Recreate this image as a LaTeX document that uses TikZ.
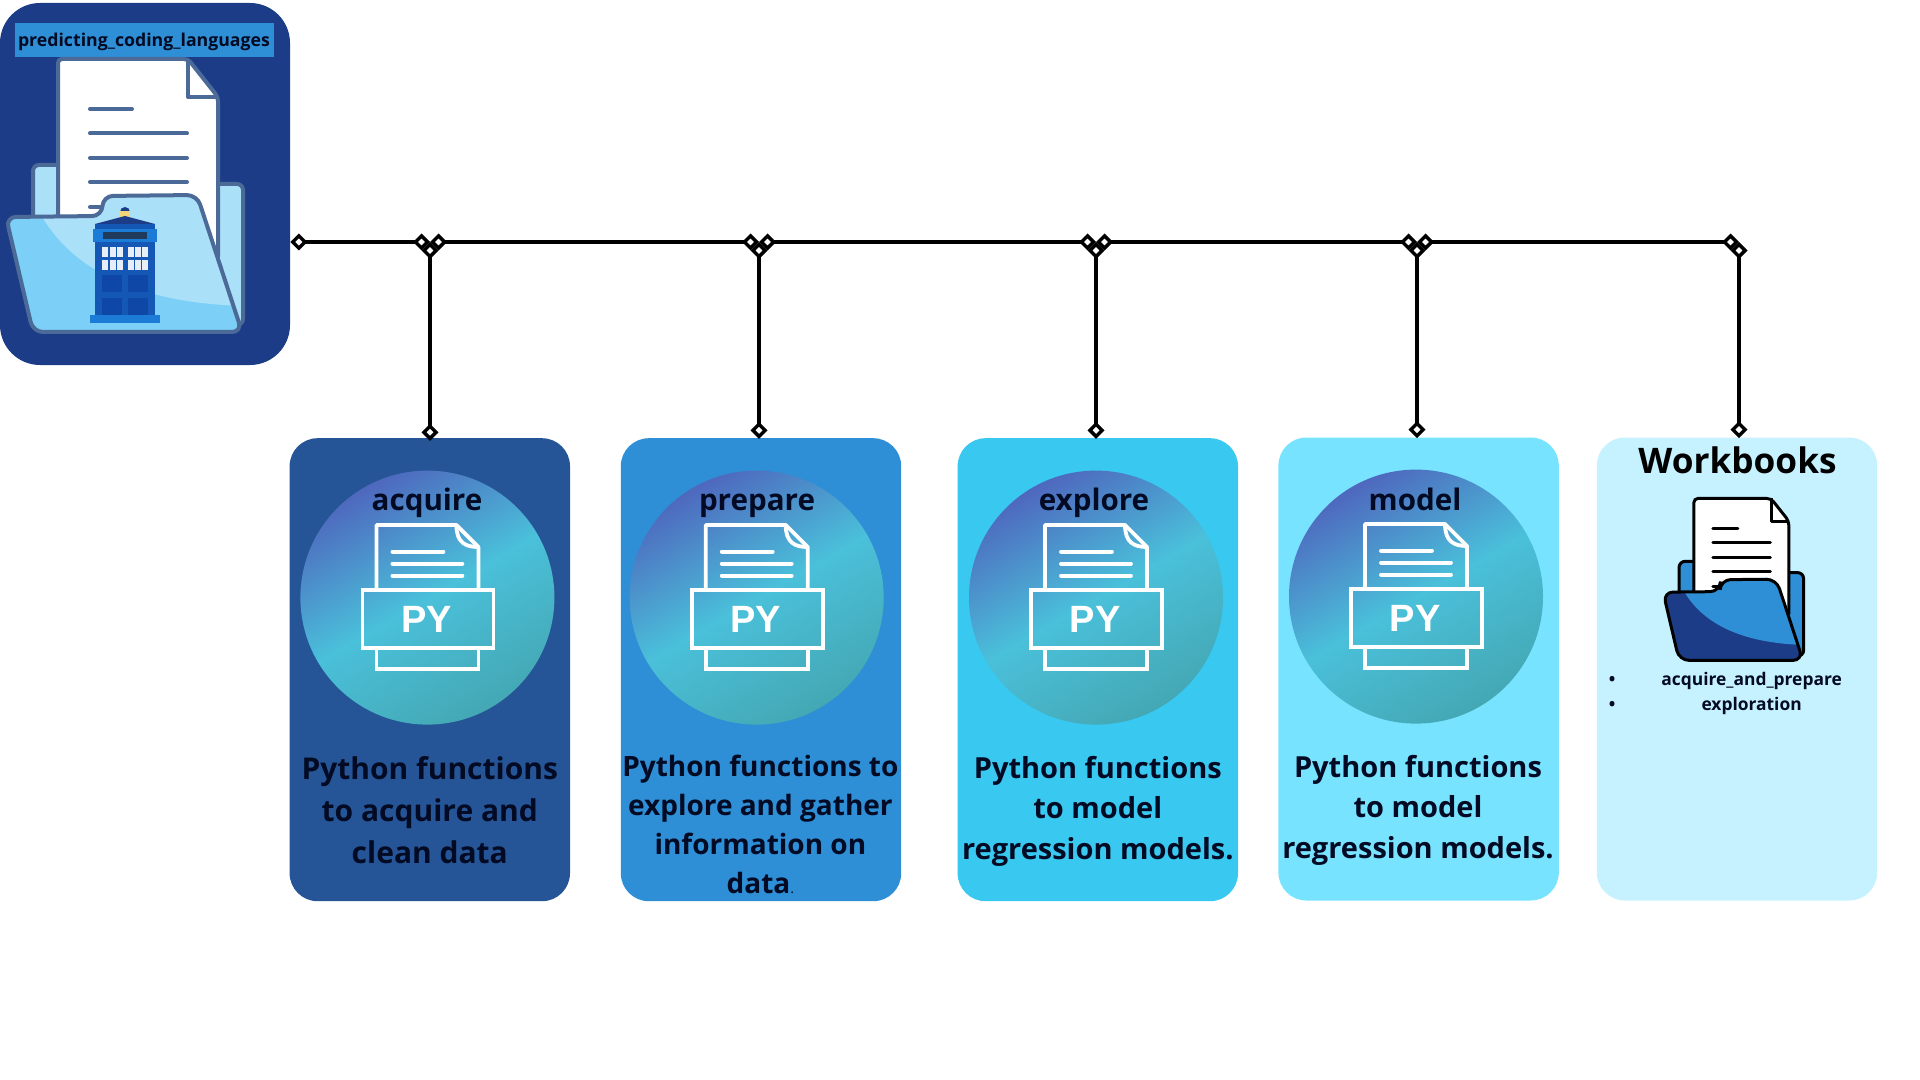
\documentclass[tikz,border=0pt]{standalone}
\usepackage{fontspec}
\setmainfont{Open Sans}
\newfontfamily\pyfont{Liberation Sans}
\usetikzlibrary{arrows.meta}

\definecolor{navy}{RGB}{29,60,135}
\definecolor{inkblue}{RGB}{3,10,35}
\definecolor{midblue}{RGB}{46,143,214}
\definecolor{cardA}{RGB}{37,85,150}
\definecolor{cardC}{RGB}{56,200,240}
\definecolor{cardD}{RGB}{120,227,255}
\definecolor{cardE}{RGB}{198,241,255}
\definecolor{slateline}{RGB}{76,106,151}
\definecolor{paleblue}{RGB}{171,224,249}
\definecolor{skyblue}{RGB}{124,208,247}
\definecolor{discA}{RGB}{78,104,190}
\definecolor{discB}{RGB}{74,192,218}
\definecolor{discC}{RGB}{68,168,180}
\definecolor{boxbody}{RGB}{20,87,181}
\definecolor{boxtrim}{RGB}{28,123,214}
\definecolor{boxsign}{RGB}{31,58,90}
\definecolor{boxpane}{RGB}{14,71,166}
\definecolor{boxlamp}{RGB}{244,213,122}
\definecolor{boxglass}{RGB}{232,238,248}

\def\frontpath{(6,217)--(102,216)--(103,196)--(197,195)--(242,332)--(33,332)--cycle}

\tikzset{
    card/.style={rectangle,rounded corners=14pt,minimum width=140.2pt,minimum height=231.5pt,inner sep=0pt},
    disc/.style={circle,minimum size=127pt,inner sep=0pt,top color=discA,bottom color=discC,middle color=discB,shading angle=30},
    title/.style={font=\bfseries\fontsize{14.8}{16}\selectfont,text=inkblue,inner sep=0pt,anchor=base},
    body/.style={font=\bfseries\fontsize{15}{21}\selectfont,text=inkblue,align=center,inner sep=0pt},
    small/.style={font=\bfseries\fontsize{8.7}{10}\selectfont,text=inkblue,inner sep=0pt},
    lnk/.style={line width=2.1pt,{Diamond[length=8.5pt,width=8.5pt,line width=1.7pt,fill=white]}-{Diamond[length=8.5pt,width=8.5pt,line width=1.7pt,fill=white]}},
    pics/pyicon/.style={code={
        \draw[white,line width=1.9pt,line join=round](-51,-8)--(-51,-72.6)--(29,-72.6)--(51,-50.6)--(51,-8);
        \draw[white,line width=1.9pt](29,-72.6)..controls(29,-55)and(38,-50.6)..(51,-50.6);
        \draw[white,line width=1.9pt,line cap=round](-35,-46)--(16,-46);
        \draw[white,line width=1.9pt,line cap=round](-35,-34)--(35,-34);
        \draw[white,line width=1.9pt,line cap=round](-35,-22)--(35,-22);
        \draw[white,line width=1.9pt](-65,-8)rectangle(66,50);
        \draw[white,line width=1.9pt](-51,50)rectangle(51,71.5);
        \node[white,font=\pyfont\bfseries\fontsize{19}{19}\selectfont,inner sep=0pt](-txt)at(-1,22){PY};
    }},
    pics/folderdoc/.style n args={4}{code={
        \draw[#1,fill=#2,line width=#4,rounded corners=3pt](33,325)--(33,165)--(150,165)--(150,184)--(243,184)--(243,325)--cycle;
        \draw[#1,fill=white,line width=#4,rounded corners=2pt](58,240)--(58,59)--(188,59)--(218,97)--(218,260)--cycle;
        \draw[#1,line width=#4,line join=round](188,59)--(188,97)--(218,97);
        \draw[#1,line width=#4,line cap=round](90,109)--(132,109);
        \draw[#1,line width=#4,line cap=round](90,133.5)--(187,133.5);
        \draw[#1,line width=#4,line cap=round](90,158)--(187,158);
        \draw[#1,line width=#4,line cap=round](90,182)--(187,182);
        \draw[#1,line width=#4,line cap=round](90,207)--(105,207);
        \fill[#3,rounded corners=5pt]\frontpath;
        \begin{scope}
            \clip[rounded corners=5pt]\frontpath;
            \fill[#2](41,215)..controls(70,265)and(130,303)..(245,306)--(245,190)--(41,190)--cycle;
        \end{scope}
        \draw[#1,line width=#4,rounded corners=5pt]\frontpath;
    }}
}

\begin{document}
\begin{tikzpicture}[x=0.5pt,y=-0.5pt]
    \useasboundingbox(0,0)rectangle(1920,1080);

    \node[rectangle,rounded corners=20pt,fill=navy,minimum width=145pt,minimum height=181pt,inner sep=0pt](root)at(145,184){};
    \node[rectangle,fill=midblue,minimum width=129.5pt,minimum height=17pt,inner sep=0pt,text height=8pt,text depth=1.5pt,font=\bfseries\fontsize{8.85}{10}\selectfont,text=inkblue](rootname)at(144,40){predicting\_coding\_languages};
    \pic(rootfolder)at(0,0){folderdoc={slateline}{paleblue}{skyblue}{2pt}};

    % police box
    \fill[navy](125,212)circle(5);
    \fill[boxlamp](120,211)rectangle(130,217);
    \fill[navy](95,224)--(125,216)--(155,224)--cycle;
    \fill[boxbody](95,224)rectangle(155,315);
    \fill[boxtrim](93,229)rectangle(157,242);
    \fill[boxsign](103,232)rectangle(147,239);
    \foreach \wx in {102,110,117,128,135,142}{
        \fill[boxglass](\wx,247)rectangle(\wx+5.5,257);
        \fill[boxglass](\wx,260)rectangle(\wx+5.5,270);
    }
    \foreach \wx/\wy in {102/275,128/275,102/298,128/298}{
        \fill[boxpane](\wx,\wy)rectangle(\wx+20,\wy+17);
    }
    \fill[boxtrim](90,315)rectangle(160,323);

    \node[card,fill=cardA](c1)at(429.8,669.7){};
    \node[card,fill=midblue](c2)at(761,669.7){};
    \node[card,fill=cardC](c3)at(1097.8,669.7){};
    \node[card,fill=cardD](c4)at(1418.6,669){};
    \node[card,fill=cardE](c5)at(1737,669){};

    \node[disc](d1)at(427.4,597.6){};
    \node[disc](d2)at(756.7,597.6){};
    \node[disc](d3)at(1096,597.6){};
    \node[disc](d4)at(1416,596.6){};

    \foreach \i in {1,2,3,4}{
        \pic(py\i)at(d\i){pyicon};
    }

    \node[title](t1)at(427,510){acquire};
    \node[title](t2)at(757,510){prepare};
    \node[title](t3)at(1094,510){explore};
    \node[title](t4)at(1415,510){model};

    \node[body](b1)at(429.8,810){Python functions\\to acquire and\\clean data};
    \node[body,font=\bfseries\fontsize{14}{19.5}\selectfont](b2)at(760.4,824){Python functions to\\explore and gather\\information on\\data{\mdseries\fontsize{7}{7}\selectfont.}};
    \node[body,font=\bfseries\fontsize{14.5}{20.2}\selectfont](b3)at(1097.8,811){Python functions\\to model\\regression models.};
    \node[body,font=\bfseries\fontsize{14.5}{20.2}\selectfont](b4)at(1418,810){Python functions\\to model\\regression models.};

    \node[font=\bfseries\fontsize{17.6}{20}\selectfont,text=black,inner sep=0pt](wbtitle)at(1737.5,460){Workbooks};
    \pic[scale=0.593](wbfolder)at(1659.5,463.5){folderdoc={black}{midblue}{navy}{1.5pt}};
    \node[small](dot1)at(1612,681){•};
    \node[small](wb1)at(1751.6,681){acquire\_and\_prepare};
    \node[small](dot2)at(1612,706){•};
    \node[small](wb2)at(1751.6,706){exploration};

    \coordinate(j1)at(430,242);
    \coordinate(j2)at(759,242);
    \coordinate(j3)at(1096,242);
    \coordinate(j4)at(1417,242);
    \coordinate(j5)at(1739,242);
    \coordinate(j0)at(root.east|-j1);

    \draw[lnk](j0)--(j1);
    \draw[lnk](j1)--(j2);
    \draw[lnk](j2)--(j3);
    \draw[lnk](j3)--(j4);
    \draw[lnk](j4)--(j5);
    \draw[lnk](j1)--([yshift=-1.5pt]j1|-c1.north);
    \draw[lnk](j2)--([yshift=-0.5pt]j2|-c2.north);
    \draw[lnk](j3)--([yshift=-0.5pt]j3|-c3.north);
    \draw[lnk](j4)--([yshift=-0.5pt]j4|-c4.north);
    \draw[lnk](j5)--([yshift=-0.5pt]j5|-c5.north);

\end{tikzpicture}
\end{document}
